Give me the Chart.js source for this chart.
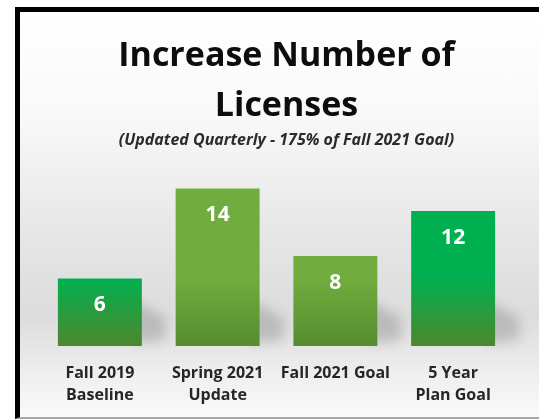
<!DOCTYPE html>
<html>
<head>
<meta charset="utf-8">
<script src="https://cdn.jsdelivr.net/npm/chart.js@4.4.1/dist/chart.umd.min.js"></script>
<style>
  html, body { margin: 0; padding: 0; background: #ffffff; overflow: hidden; width: 539px; height: 419px; }
  #frame {
    position: absolute;
    left: 15px;
    top: 7px;
    width: 519px;
    height: 405px;
    border-left: 5px solid #000;
    border-top: 5px solid #000;
    border-bottom: 2px solid #a8a8a8;
    background: linear-gradient(to bottom, #ffffff 0%, #f9f9f9 25%, #e6e6e6 55%, #dcdcdc 75%, #efefef 90%, #fafafa 100%);
  }
  #frame canvas { position: absolute; left: 0; top: 0; }
</style>
</head>
<body>
<div id="frame"><canvas id="licenseChart" width="519" height="410"></canvas></div>
<script>
// chart data
const categories = [['Fall 2019', 'Baseline'], ['Spring 2021', 'Update'], 'Fall 2021 Goal', ['5 Year', 'Plan Goal']];
const licenses = [6, 14, 8, 12];
const barTopColors = ['rgb(0,176,80)', 'rgb(112,173,62)', 'rgb(112,173,62)', 'rgb(0,176,80)'];
const barBottomColors = ['rgb(78,135,44)', 'rgb(86,140,46)', 'rgb(86,140,46)', 'rgb(78,135,44)'];

// gradient per bar, darkening toward the base
function barFill(context) {
    const chart = context.chart;
    const area = chart.chartArea;
    if (!area) return barTopColors[context.dataIndex];
    const g = chart.ctx.createLinearGradient(0, area.top, 0, area.bottom);
    g.addColorStop(0, barTopColors[context.dataIndex]);
    g.addColorStop(0.62, barTopColors[context.dataIndex]);
    g.addColorStop(1, barBottomColors[context.dataIndex]);
    return g;
}

// soft shadow falling to the right of each bar's foot
const barShadows = {
    id: 'barShadows',
    beforeDatasetsDraw(chart) {
        const ctx = chart.ctx;
        const meta = chart.getDatasetMeta(0);
        ctx.save();
        ctx.filter = 'blur(6px)';
        ctx.fillStyle = 'rgba(0,0,0,0.16)';
        meta.data.forEach((bar) => {
            const right = bar.x + bar.width / 2;
            const h = Math.min(45, bar.base - bar.y);
            ctx.beginPath();
            ctx.moveTo(right - 8, bar.base - 2);
            ctx.lineTo(right + 24, bar.base - 6);
            ctx.lineTo(right + 24, bar.base - h * 0.6);
            ctx.lineTo(right - 8, bar.base - h);
            ctx.closePath();
            ctx.fill();
        });
        ctx.restore();
    }
};

// white value labels inside the top of each bar
const valueLabels = {
    id: 'valueLabels',
    afterDatasetsDraw(chart) {
        const ctx = chart.ctx;
        const meta = chart.getDatasetMeta(0);
        ctx.save();
        ctx.fillStyle = '#ffffff';
        ctx.font = 'bold 21px "Open Sans"';
        ctx.textAlign = 'center';
        ctx.textBaseline = 'middle';
        meta.data.forEach((bar, i) => {
            ctx.fillText(licenses[i], bar.x, bar.y + 27);
        });
        ctx.restore();
    }
};

const ctx = document.getElementById('licenseChart').getContext('2d');
new Chart(ctx, {
    type: 'bar',
    data: {
        labels: categories,
        datasets: [{
            data: licenses,
            backgroundColor: barFill,
            borderWidth: 0,
            categoryPercentage: 1.0,
            barPercentage: 0.713
        }]
    },
    options: {
        responsive: false,
        animation: false,
        layout: {
            padding: { left: 21, right: 7, top: 0, bottom: 0 }
        },
        plugins: {
            legend: { display: false },
            tooltip: { enabled: false },
            title: {
                display: true,
                text: ['Increase Number of', 'Licenses'],
                color: '#0d0d0d',
                font: { family: 'Open Sans', size: 34, weight: 'bold', lineHeight: '50px' },
                padding: { top: 19, bottom: 0 }
            },
            subtitle: {
                display: true,
                text: '(Updated Quarterly - 175% of Fall 2021 Goal)',
                color: '#2b2b2b',
                font: { family: 'Open Sans', size: 16, weight: 'bold', style: 'italic', lineHeight: '18px' },
                padding: { top: 0, bottom: 17 }
            }
        },
        scales: {
            x: {
                grid: { display: false, drawTicks: false },
                border: { display: false },
                ticks: {
                    color: '#262626',
                    padding: 16,
                    maxRotation: 0,
                    autoSkip: false,
                    font: { family: 'Open Sans', size: 16, weight: 'bold', lineHeight: '22px' }
                }
            },
            y: {
                position: 'right',
                min: 0,
                max: 16,
                grid: { display: false, drawTicks: false },
                border: { display: false },
                ticks: { display: false },
                afterFit: (axis) => { axis.width = 20; }
            }
        }
    },
    plugins: [barShadows, valueLabels]
});
</script>
</body>
</html>
